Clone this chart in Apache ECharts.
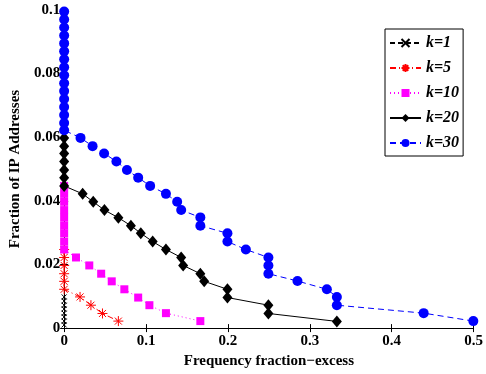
<!DOCTYPE html>
<html>
<head>
<meta charset="utf-8">
<script src="https://cdn.jsdelivr.net/npm/echarts@6/dist/echarts.min.js"></script>
<style>
  html, body { margin: 0; padding: 0; background: #fff; }
  #chart { width: 486px; height: 374px; }
</style>
</head>
<body>
<div id="chart"></div>
<script>
// data
const k1X = [0, 0, 0, 0, 0, 0, 0, 0];
const k1Y = [0.0098, 0.0085, 0.0072, 0.006, 0.0047, 0.0035, 0.0022, 0.001];

const k5X = [0, 0, 0, 0, 0, 0, 0.0194, 0.0327, 0.0468, 0.0662];
const k5Y = [0.0247, 0.0222, 0.0197, 0.0171, 0.0147, 0.0122, 0.0098, 0.0072, 0.0046, 0.0022];

const k10X = [0, 0, 0, 0, 0, 0, 0, 0, 0,
  0.0145, 0.0307, 0.0452, 0.0581, 0.0735, 0.0904, 0.1041, 0.1243, 0.1663];
const k10Y = [0.0447, 0.0422, 0.0397, 0.0371, 0.0347, 0.0322, 0.0298, 0.0272, 0.0247,
  0.0222, 0.0197, 0.0171, 0.0147, 0.0122, 0.0096, 0.0072, 0.0047, 0.0022];

const k20X = [0, 0, 0, 0, 0, 0, 0,
  0.0226, 0.0355, 0.0492, 0.0662, 0.0815, 0.0936, 0.1081, 0.1243, 0.1429, 0.1453,
  0.1663, 0.171, 0.1994, 0.1994, 0.2494, 0.2494, 0.333];
const k20Y = [0.0598, 0.0572, 0.0549, 0.0524, 0.0497, 0.0473, 0.0447,
  0.0422, 0.0397, 0.0371, 0.0347, 0.0322, 0.0298, 0.0272, 0.0247, 0.0222, 0.0197,
  0.0171, 0.0147, 0.0122, 0.0096, 0.0072, 0.0046, 0.0021];

const k30X = [0, 0, 0, 0, 0, 0, 0, 0, 0, 0, 0, 0, 0, 0, 0, 0,
  0.020, 0.0347, 0.0488, 0.0638, 0.0767, 0.0904, 0.105, 0.1243, 0.138, 0.1429,
  0.1663, 0.1663, 0.1994, 0.1994, 0.2219, 0.2494, 0.2494, 0.2494, 0.2849, 0.3208,
  0.333, 0.333, 0.439, 0.4996];
const k30Y = [0.0995, 0.097, 0.0945, 0.092, 0.0895, 0.087, 0.0845, 0.082, 0.0795,
  0.077, 0.0745, 0.072, 0.0695, 0.067, 0.0645, 0.0622,
  0.0598, 0.0572, 0.0549, 0.0524, 0.0497, 0.0473, 0.0447, 0.0422, 0.0397, 0.0371,
  0.0348, 0.0322, 0.0298, 0.0272, 0.0247, 0.0222, 0.0197, 0.0171, 0.0148, 0.0122,
  0.0098, 0.0072, 0.0047, 0.0022];

const pairs = (xs, ys) => xs.map((x, i) => [x, ys[i]]);

const serif = 'Liberation Serif';
const crossPath = 'path://M0,0L10,10M10,0L0,10';
const starPath = 'path://M5,0L5,10M0,5L10,5M1.5,1.5L8.5,8.5M8.5,1.5L1.5,8.5';

const chart = echarts.init(document.getElementById('chart'));

const labelStyle = {
  fontFamily: serif,
  fontWeight: 'bold',
  fontSize: 15,
  color: '#000',
};

chart.setOption({
  animation: false,
  backgroundColor: '#fff',
  grid: { left: 64, right: 9, top: 10, bottom: 39 },
  legend: {
    orient: 'vertical',
    left: 385,
    top: 29,
    padding: [6, 4, 5, 4],
    itemGap: 9,
    itemWidth: 31,
    itemHeight: 10,
    backgroundColor: '#fff',
    borderColor: '#000',
    borderWidth: 1,
    borderRadius: 0,
    textStyle: {
      fontFamily: serif,
      fontWeight: 'bold',
      fontStyle: 'italic',
      fontSize: 16,
      color: '#000',
    },
    data: ['k=1', 'k=5', 'k=10', 'k=20', 'k=30'],
  },
  xAxis: [
    {
      type: 'value',
      min: 0,
      max: 0.5,
      interval: 0.1,
      name: 'Frequency fraction\u2212excess',
      nameLocation: 'middle',
      nameGap: 24,
      nameTextStyle: labelStyle,
      axisLine: { onZero: false, lineStyle: { color: '#000', width: 1 } },
      axisTick: { inside: true, length: 4, lineStyle: { color: '#000' } },
      axisLabel: Object.assign({ margin: 6, formatter: (v) => String(v) }, labelStyle),
      splitLine: { show: false },
    },
    {
      type: 'value',
      position: 'top',
      min: 0,
      max: 0.5,
      interval: 0.1,
      axisLine: { lineStyle: { color: '#000', width: 1 } },
      axisTick: { inside: true, length: 4, lineStyle: { color: '#000' } },
      axisLabel: { show: false },
      splitLine: { show: false },
    },
  ],
  yAxis: [
    {
      type: 'value',
      min: 0,
      max: 0.1,
      interval: 0.02,
      name: 'Fraction of IP Addresses',
      nameLocation: 'middle',
      nameGap: 39,
      nameTextStyle: labelStyle,
      axisLine: { onZero: false, lineStyle: { color: '#000', width: 1 } },
      axisTick: { inside: true, length: 4, lineStyle: { color: '#000' } },
      axisLabel: Object.assign({ margin: 4, formatter: (v) => String(v) }, labelStyle),
      splitLine: { show: false },
    },
    {
      type: 'value',
      position: 'right',
      min: 0,
      max: 0.1,
      interval: 0.02,
      axisLine: { show: true, lineStyle: { color: '#000', width: 1 } },
      axisTick: { show: true, inside: true, length: 4, lineStyle: { color: '#000' } },
      axisLabel: { show: false },
      splitLine: { show: false },
    },
  ],
  series: [
    {
      name: 'k=1',
      type: 'line',
      data: pairs(k1X, k1Y),
      symbol: crossPath,
      symbolSize: 5,
      lineStyle: { color: '#000', width: 1, type: [5, 3] },
      itemStyle: { color: 'none', borderColor: '#000', borderWidth: 1 },
    },
    {
      name: 'k=5',
      type: 'line',
      data: pairs(k5X, k5Y),
      symbol: starPath,
      symbolSize: 10,
      lineStyle: { color: '#ff0000', width: 1, type: [6, 3, 1, 3] },
      itemStyle: { color: 'none', borderColor: '#ff0000', borderWidth: 1 },
    },
    {
      name: 'k=10',
      type: 'line',
      data: pairs(k10X, k10Y),
      symbol: 'rect',
      symbolSize: 8,
      lineStyle: { color: '#ff00ff', width: 1, type: [1, 3] },
      itemStyle: { color: '#ff00ff' },
    },
    {
      name: 'k=20',
      type: 'line',
      data: pairs(k20X, k20Y),
      symbol: 'diamond',
      symbolSize: [10, 12],
      lineStyle: { color: '#000', width: 1, type: 'solid' },
      itemStyle: { color: '#000' },
    },
    {
      name: 'k=30',
      type: 'line',
      data: pairs(k30X, k30Y),
      symbol: 'circle',
      symbolSize: 10,
      lineStyle: { color: '#0000ff', width: 1, type: [6, 4] },
      itemStyle: { color: '#0000ff' },
    },
  ],
});
</script>
</body>
</html>
